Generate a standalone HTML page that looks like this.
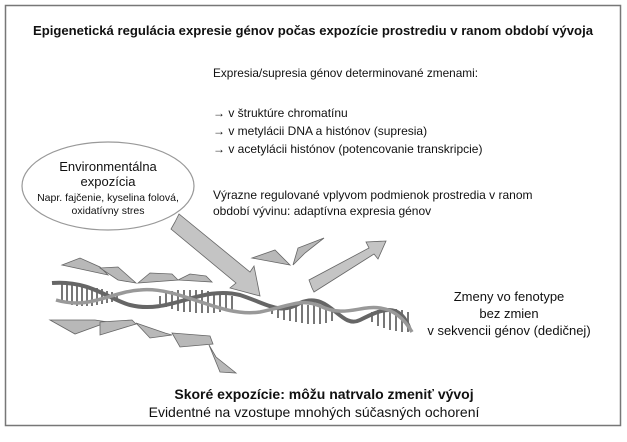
<!DOCTYPE html>
<html><head><meta charset="utf-8"><style>
html,body{margin:0;padding:0;background:#fff;}
svg{display:block;font-family:"Liberation Sans",Arial,sans-serif;}
</style></head><body>
<svg width="627" height="442" viewBox="0 0 627 442">
<rect x="0" y="0" width="627" height="442" fill="#fff"/>
<rect x="5.5" y="5.5" width="615" height="420" fill="none" stroke="#777" stroke-width="1.5"/>
<text x="313" y="35" text-anchor="middle" font-size="13.3" font-weight="bold" fill="#111" textLength="560" lengthAdjust="spacingAndGlyphs">Epigenetická regulácia expresie génov počas expozície prostrediu v ranom období vývoja</text>
<g font-size="12" fill="#111">
<text x="213" y="77" textLength="265" lengthAdjust="spacingAndGlyphs">Expresia/supresia génov determinované zmenami:</text>
<text x="213" y="117">→ v štruktúre chromatínu</text>
<text x="213" y="135">→ v metylácii DNA a histónov (supresia)</text>
<text x="213" y="153">→ v acetylácii histónov (potencovanie transkripcie)</text>
<text x="213" y="199">Výrazne regulované vplyvom podmienok prostredia v ranom</text>
<text x="213" y="215">období vývinu: adaptívna expresia génov</text>
</g>
<g font-size="13" fill="#111" text-anchor="middle">
<text x="509" y="301">Zmeny vo fenotype</text>
<text x="509" y="318">bez zmien</text>
<text x="509" y="335">v sekvencii génov (dedičnej)</text>
<text x="324" y="399" font-weight="bold" font-size="14">Skoré expozície: môžu natrvalo zmeniť vývoj</text>
<text x="314" y="417" font-size="14">Evidentné na vzostupe mnohých súčasných ochorení</text>
</g>
<ellipse cx="108" cy="186" rx="86" ry="44" fill="#fff" stroke="#999" stroke-width="1.2"/>
<g text-anchor="middle" fill="#111">
<text x="108" y="171" font-size="13">Environmentálna</text>
<text x="108" y="186" font-size="13">expozícia</text>
<text x="108" y="201" font-size="10.5">Napr. fajčenie, kyselina folová,</text>
<text x="108" y="214" font-size="10.5">oxidatívny stres</text>
</g>
<!-- arrows -->
<polygon points="175,222 179,214 250,272 254,266 260,296 230,288 236,283 171,229" fill="#c4c4c4" stroke="#666" stroke-width="0.8"/>
<polygon points="312,288 309,280 369,248 366,242 386,241 378,259 374,254 314,292" fill="#c4c4c4" stroke="#666" stroke-width="0.8"/>
<!-- fragments -->
<g fill="#b8b8b8" stroke="#666" stroke-width="0.8">
<polygon points="62,265 80,258 100,267 108,275"/>
<polygon points="100,268 118,267 136,283 118,280"/>
<polygon points="138,283 150,273 172,274 178,280"/>
<polygon points="178,280 190,274 206,276 212,282"/>
<polygon points="252,258 275,250 290,265"/>
<polygon points="293,265 298,248 324,238 305,253"/>
<polygon points="50,320 95,320 108,322 75,334"/>
<polygon points="100,322 132,320 136,324 100,335"/>
<polygon points="136,323 165,333 172,335 150,338"/>
<polygon points="172,333 210,336 213,344 180,347"/>
<polygon points="209,345 216,357 236,373 220,372"/>
</g>
<!-- DNA -->
<g fill="none">
<g stroke="#777" stroke-width="2">
<path d="M62,284 L62,300 M67,284 L67,303 M72,284 L72,305 M77,285 L77,306 M82,286 L82,306 M87,286 L87,306 M92,287 L92,306 M97,288 L97,305 M102,289 L102,304 M107,291 L107,303 M112,292 L112,302 M117,294 L117,300"/>
<path d="M160,296 L160,304 M166,293 L166,307 M172,291 L172,309 M178,290 L178,311 M184,290 L184,312 M190,290 L190,312 M196,290 L196,313 M202,290 L202,313 M208,291 L208,313 M214,292 L214,313 M220,293 L220,312 M226,295 L226,311 M232,296 L232,310"/>
<path d="M272,310 L272,314 M278,307 L278,318 M284,306 L284,320 M290,305 L290,321 M296,304 L296,322 M302,304 L302,323 M308,305 L308,324 M314,305 L314,324 M320,306 L320,324 M326,308 L326,323 M332,310 L332,321"/>
<path d="M372,312 L372,322 M378,310 L378,326 M384,309 L384,328 M390,309 L390,330 M396,309 L396,331 M402,310 L402,332 M408,312 L408,332"/>
</g>
<path d="M52,283 C90,280 110,300 130,305 C170,315 200,285 240,295 C270,305 280,315 300,303 C330,290 340,330 360,320 C380,310 400,300 410,330" stroke="#666" stroke-width="4"/>
<path d="M56,300 C90,310 110,292 140,290 C180,286 220,318 260,312 C290,306 300,298 320,306 C345,318 360,305 380,308 C395,310 405,320 412,332" stroke="#999" stroke-width="3.5"/>
</g>
</svg>
</body></html>
